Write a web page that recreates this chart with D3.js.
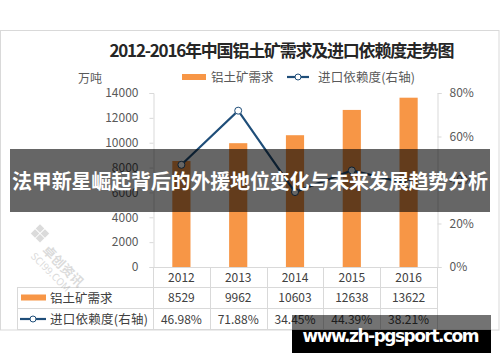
<!DOCTYPE html>
<html>
<head>
<meta charset="utf-8">
<script src="https://cdn.jsdelivr.net/npm/d3@7"></script>
<style>
  body { margin: 0; background: #fff; }
  svg { display: block; font-family: "Noto Sans CJK SC", "Noto Sans", sans-serif; }
</style>
</head>
<body>
<div id="chart"></div>
<script>
// data
var years = ["2012", "2013", "2014", "2015", "2016"];
var demand = [8529, 9962, 10603, 12638, 13622];          // 万吨
var dependence = [46.98, 71.88, 34.45, 44.39, 38.21];    // %
var leftTicks = [0, 2000, 4000, 6000, 8000, 10000, 12000, 14000];
var rightTicks = [0, 20, 40, 60, 80];

var width = 500, height = 362;
var orange = "#F79646", blue = "#1F4E79", grid = "#D9D9D9", txt = "#595959";

var svg = d3.select("#chart").append("svg")
  .attr("width", width)
  .attr("height", height);

// outer chart border
svg.append("rect")
  .attr("x", 0.5).attr("y", 30.5)
  .attr("width", 498.5).attr("height", 299.5)
  .attr("fill", "#fff").attr("stroke", grid);

// title
svg.append("text")
  .attr("x", 282).attr("y", 57)
  .attr("text-anchor", "middle")
  .attr("font-size", 17).attr("font-weight", "bold")
  .attr("fill", "#262626")
  .attr("textLength", 345)
  .text("2012-2016年中国铝土矿需求及进口依赖度走势图");

svg.append("text")
  .attr("x", 78).attr("y", 83)
  .attr("font-size", 12).attr("fill", txt)
  .text("万吨");

// legend
var legend = svg.append("g");
legend.append("rect").attr("x", 182).attr("y", 74).attr("width", 24).attr("height", 6).attr("fill", orange);
legend.append("text").attr("x", 211).attr("y", 81.5).attr("font-size", 12.5).attr("fill", txt).text("铝土矿需求");
legend.append("line").attr("x1", 287).attr("x2", 309).attr("y1", 77).attr("y2", 77)
  .attr("stroke", blue).attr("stroke-width", 2.2);
legend.append("circle").attr("cx", 298).attr("cy", 77).attr("r", 3)
  .attr("fill", "#fff").attr("stroke", blue).attr("stroke-width", 1);
legend.append("text").attr("x", 318).attr("y", 81.5).attr("font-size", 12.5).attr("fill", txt)
  .attr("textLength", 97).text("进口依赖度(右轴)");

// scales
var x = d3.scaleBand().domain(years).range([153, 437]).padding(0);
var yL = d3.scaleLinear().domain([0, 14000]).range([267, 93]);
var yR = d3.scaleLinear().domain([0, 80]).range([267, 93]);

// axes
var leftAxis = svg.append("g")
  .attr("transform", "translate(153.5,0)")
  .call(d3.axisLeft(yL).tickValues(leftTicks).tickSize(4).tickPadding(11)
    .tickFormat(d3.format("d")));
var rightAxis = svg.append("g")
  .attr("transform", "translate(437.5,0)")
  .call(d3.axisRight(yR).tickValues(rightTicks).tickSize(4).tickPadding(8)
    .tickFormat(function(d) { return d + "%"; }));
[leftAxis, rightAxis].forEach(function(g) {
  g.select(".domain").attr("stroke", grid);
  g.selectAll(".tick line").attr("stroke", grid);
  g.selectAll(".tick text").attr("fill", txt).attr("font-size", 12)
    .attr("font-family", "'Noto Sans CJK SC', sans-serif");
});

// bars
var barW = x.bandwidth() * 0.32;
svg.append("g").selectAll("rect")
  .data(demand)
  .enter().append("rect")
  .attr("x", function(d, i) { return x(years[i]) + (x.bandwidth() - barW) / 2; })
  .attr("y", function(d) { return yL(d); })
  .attr("width", barW)
  .attr("height", function(d) { return yL(0) - yL(d); })
  .attr("fill", orange);

// data table below the axis
var table = svg.append("g").attr("stroke", grid).attr("fill", "none");
table.append("line").attr("x1", 150).attr("x2", 437).attr("y1", 267.5).attr("y2", 267.5);
[287.5, 308.5, 329.5].forEach(function(yy) {
  table.append("line").attr("x1", 17).attr("x2", 437).attr("y1", yy).attr("y2", yy);
});
table.append("line").attr("x1", 17.5).attr("x2", 17.5).attr("y1", 287).attr("y2", 330);
years.forEach(function(yr) {
  var xx = Math.round(x(yr)) + 0.5;
  table.append("line").attr("x1", xx).attr("x2", xx).attr("y1", 267).attr("y2", 330);
});
table.append("line").attr("x1", 437.5).attr("x2", 437.5).attr("y1", 267).attr("y2", 330);

var cells = svg.append("g").attr("font-size", 12).attr("fill", "#404040").attr("text-anchor", "middle");
years.forEach(function(yr, i) {
  var cx = x(yr) + x.bandwidth() / 2;
  cells.append("text").attr("x", cx).attr("y", 282).text(yr);
  cells.append("text").attr("x", cx).attr("y", 302).text(demand[i]);
  cells.append("text").attr("x", cx).attr("y", 324).text(dependence[i].toFixed(2) + "%");
});

svg.append("rect").attr("x", 21).attr("y", 294.5).attr("width", 25).attr("height", 6).attr("fill", orange);
svg.append("text").attr("x", 50).attr("y", 302.5).attr("font-size", 12.5).attr("fill", "#404040").text("铝土矿需求");
svg.append("line").attr("x1", 20).attr("x2", 46).attr("y1", 319).attr("y2", 319)
  .attr("stroke", blue).attr("stroke-width", 2.2);
svg.append("circle").attr("cx", 33).attr("cy", 319).attr("r", 3)
  .attr("fill", "#fff").attr("stroke", blue).attr("stroke-width", 1);
svg.append("text").attr("x", 50).attr("y", 324).attr("font-size", 12.5).attr("fill", "#404040")
  .attr("textLength", 98).text("进口依赖度(右轴)");

// faint logo watermark lower left
var logo = svg.append("g").attr("transform", "translate(40,244) rotate(45)").attr("opacity", 0.35);
[[-6, -6], [1, -6], [-6, 1], [1, 1]].forEach(function(p) {
  logo.append("rect").attr("x", p[0] - 8).attr("y", p[1] - 8).attr("width", 6).attr("height", 6).attr("fill", "#999");
});
logo.append("text").attr("x", 6).attr("y", 4).attr("font-size", 13).attr("font-weight", "bold")
  .attr("fill", "#999").text("卓创资讯");
logo.append("text").attr("x", 2).attr("y", 16).attr("font-size", 10).attr("fill", "#999").text("SCI99.COM");

// line on right axis
var line = d3.line()
  .x(function(d, i) { return x(years[i]) + x.bandwidth() / 2; })
  .y(function(d) { return yR(d); });
svg.append("path").datum(dependence)
  .attr("d", line)
  .attr("fill", "none").attr("stroke", blue).attr("stroke-width", 2.2);
svg.append("g").selectAll("circle")
  .data(dependence)
  .enter().append("circle")
  .attr("cx", function(d, i) { return x(years[i]) + x.bandwidth() / 2; })
  .attr("cy", function(d) { return yR(d); })
  .attr("r", 3.5)
  .attr("fill", "#fff").attr("stroke", blue).attr("stroke-width", 1);

// overlay banner
svg.append("rect").attr("x", 10).attr("y", 149).attr("width", 480).attr("height", 63)
  .attr("fill", "#000").attr("opacity", 0.6);
svg.append("text").attr("x", 250).attr("y", 189)
  .attr("text-anchor", "middle").attr("font-size", 20).attr("font-weight", "bold")
  .attr("fill", "#fff").attr("textLength", 476)
  .text("法甲新星崛起背后的外援地位变化与未来发展趋势分析");

// site watermark bottom right
svg.append("rect").attr("x", 292).attr("y", 315).attr("width", 199).attr("height", 15)
  .attr("fill", "#000").attr("opacity", 0.55);
svg.append("rect").attr("x", 292).attr("y", 330).attr("width", 199).attr("height", 23)
  .attr("fill", "#000");
svg.append("text").attr("x", 391).attr("y", 342)
  .attr("text-anchor", "middle").attr("font-size", 17).attr("font-weight", "bold")
  .attr("font-family", "'DejaVu Sans', sans-serif")
  .attr("fill", "#fff").attr("textLength", 177)
  .text("www.zh-pgsport.com");
</script>
</body>
</html>
